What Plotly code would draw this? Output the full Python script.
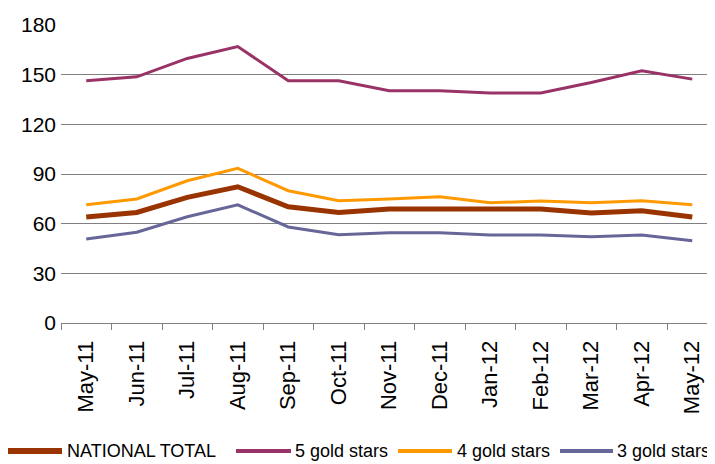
import plotly.graph_objects as go

months = ["May-11", "Jun-11", "Jul-11", "Aug-11", "Sep-11", "Oct-11", "Nov-11",
          "Dec-11", "Jan-12", "Feb-12", "Mar-12", "Apr-12", "May-12"]
national_total = [64, 66.8, 75.9, 82.3, 70.2, 66.8, 68.8, 68.8, 68.8, 68.8, 66.4, 67.8, 64]
gold5 = [146.3, 148.7, 159.8, 167, 146.3, 146.3, 140.3, 140.3, 139, 139, 145.3, 152.4, 147.3]
gold4 = [71.4, 74.9, 85.9, 93.4, 79.9, 73.9, 74.9, 76.3, 72.6, 73.7, 72.6, 73.9, 71.4]
gold3 = [50.7, 54.8, 64.2, 71.4, 58, 53.3, 54.5, 54.5, 53.1, 53.1, 52.1, 53.1, 49.7]
y_ticks = [0, 30, 60, 90, 120, 150, 180]

series = [
    ("NATIONAL TOTAL", national_total, "#993300", 5),
    ("5 gold stars", gold5, "#993366", 3),
    ("4 gold stars", gold4, "#FF9900", 3),
    ("3 gold stars", gold3, "#666699", 3),
]

# page has an 8px body margin, so the figure is offset by 8px
OFF = 8
W, H = 715 - OFF, 464 - OFF
ML, MR, MT, MB = 61 - OFF, 0, 25 - OFF, 464 - 323
PW, PH = W - ML - MR, H - MT - MB

fig = go.Figure()
for name, vals, color, w in series:
    fig.add_trace(go.Scatter(x=months, y=vals, name=name, mode="lines",
                             line=dict(color=color, width=w)))

# Manual legend (long line swatches as in the reference); page pixel coords
legend_line_x = [(7, 62), (236, 291), (398, 452), (560, 613)]
legend_text_x = [65, 293, 455, 615]
legend_y_px = 451
yl = (464 - MB - legend_y_px) / PH
shapes = []
annotations = []
for (name, _, color, w), (x0, x1), tx in zip(series, legend_line_x, legend_text_x):
    shapes.append(dict(type="line", xref="paper", yref="paper",
                       x0=(x0 - 61) / PW, x1=(x1 - 61) / PW, y0=yl, y1=yl,
                       line=dict(color=color, width=w + 1)))
    annotations.append(dict(text=name, xref="paper", yref="paper",
                            x=(tx - 61) / PW, y=yl, xanchor="left", yanchor="middle",
                            showarrow=False, font=dict(size=18, color="black")))

fig.update_layout(
    width=W, height=H,
    margin=dict(l=ML, r=MR, t=MT, b=MB),
    paper_bgcolor="white", plot_bgcolor="white",
    font=dict(family="Liberation Sans, Arial", size=18, color="black"),
    showlegend=False,
    shapes=shapes, annotations=annotations,
    xaxis=dict(type="category", range=[-0.5, 12.45], tickangle=-90, automargin=False,
               showgrid=False, showline=True, linecolor="#808080", linewidth=1,
               ticks="outside", ticklen=6, tickcolor="#808080", tickson="boundaries",
               ticklabelstandoff=8, tickfont=dict(size=22)),
    yaxis=dict(range=[0, 180], tickvals=y_ticks, showgrid=True, gridcolor="#808080",
               gridwidth=1, zeroline=False, showline=False, ticks="", automargin=False,
               ticklabelstandoff=4, tickfont=dict(size=21)),
)

fig.write_html("out.html")
